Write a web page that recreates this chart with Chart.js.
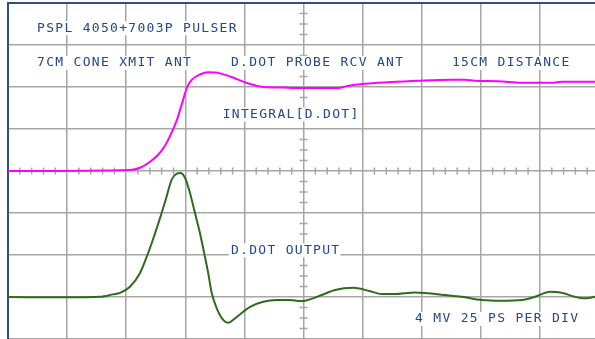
<!DOCTYPE html>
<html>
<head>
<meta charset="utf-8">
<script src="https://cdn.jsdelivr.net/npm/chart.js@4"></script>
<style>
  html, body { margin: 0; padding: 0; background: #fff; overflow: hidden; }
</style>
</head>
<body>
<canvas id="scope" width="595" height="339"></canvas>
<script>
// time in ps (25 ps per div), amplitude in mV (4 mV per div)
const integralTime = [0, 51.6, 55.8, 60.1, 63.5, 66.4, 69.4, 71.5, 73.6, 75.7, 77.8, 81.2, 84.6, 87.6, 89.7, 95.2, 100.7, 107.9, 116.3, 121.4, 139.6, 143.8, 151, 160.7, 173.4, 187.8, 193.3, 197.5, 207.3, 217.4, 230.1, 234.3, 248.3];
const integralValues = [0, 0.1, 0.31, 0.88, 1.55, 2.41, 3.75, 4.9, 6.42, 7.95, 8.71, 9.19, 9.41, 9.38, 9.3, 8.9, 8.4, 8.0, 7.95, 7.9, 7.9, 8.1, 8.3, 8.45, 8.6, 8.7, 8.7, 8.6, 8.55, 8.4, 8.4, 8.5, 8.5];

const ddotTime = [0, 24.8, 38.9, 44.4, 47.4, 51.6, 55.8, 58.7, 61.5, 64.3, 67.1, 69.2, 71.4, 72.8, 74.9, 77.0, 79.1, 81.2, 83.3, 84.7, 86.2, 88.3, 91.1, 93.2, 96.0, 99.5, 102.4, 108.0, 113.7, 119.3, 123.5, 125.6, 132.7, 138.3, 146.1, 152.4, 158.1, 163.7, 172.2, 177.8, 184.9, 191.9, 200.4, 208.8, 217.3, 222.9, 229.2, 234.2, 239.8, 244.0, 248.3];
const ddotValues = [-12.0, -12.03, -11.98, -11.75, -11.6, -11.02, -9.74, -8.16, -6.4, -4.49, -2.43, -0.84, -0.26, -0.2, -0.67, -2.11, -4.01, -5.92, -8.16, -9.74, -11.65, -13.08, -14.2, -14.46, -14.04, -13.41, -12.93, -12.45, -12.29, -12.29, -12.39, -12.36, -11.81, -11.33, -11.12, -11.4, -11.72, -11.72, -11.56, -11.65, -11.81, -11.98, -12.29, -12.36, -12.29, -11.98, -11.5, -11.59, -11.98, -12.13, -11.98];

// screen annotations: text, left edge (ps), centre (mV)
const noteText = ["PSPL 4050+7003P PULSER", "7CM CONE XMIT ANT", "D.DOT PROBE RCV ANT", "15CM DISTANCE", "INTEGRAL[D.DOT]", "D.DOT OUTPUT", "4 MV 25 PS PER DIV"];
const noteX = [12.3, 12.3, 94.3, 187.8, 90.8, 94.3, 172.2];
const noteY = [13.6, 10.3, 10.3, 10.3, 5.4, -7.55, -14.1];

const toPoints = (xs, ys) => xs.map((x, i) => ({ x: x, y: ys[i] }));

const GRID = "#a6a6a6";
const FRAME = "#2d4f86";
const INK = "#22498a";

// small graticule marks on the two centre lines
const graticule = {
  id: "graticule",
  beforeDatasetsDraw(chart) {
    const { ctx, scales: { x, y } } = chart;
    const cx = x.getPixelForValue(125);
    const cy = y.getPixelForValue(0);
    ctx.save();
    ctx.strokeStyle = GRID;
    ctx.lineWidth = 1.5;
    ctx.beginPath();
    for (let t = 0; t <= 250; t += 5) {
      if (t % 25 === 0) continue;
      const px = x.getPixelForValue(t);
      ctx.moveTo(px, cy - 3.5);
      ctx.lineTo(px, cy + 3.5);
    }
    for (let v = -16; v <= 16; v += 1) {
      if (v % 4 === 0) continue;
      const py = y.getPixelForValue(v);
      ctx.moveTo(cx - 4, py);
      ctx.lineTo(cx + 4, py);
    }
    ctx.stroke();
    ctx.restore();
  },
};

// text written on the screen, with a white box behind it
const notes = {
  id: "notes",
  afterDatasetsDraw(chart) {
    const { ctx, scales: { x, y } } = chart;
    ctx.save();
    ctx.font = "13px 'DejaVu Sans Mono'";
    ctx.letterSpacing = "1.3px";
    ctx.textBaseline = "middle";
    noteText.forEach((txt, i) => {
      const px = x.getPixelForValue(noteX[i]);
      const py = y.getPixelForValue(noteY[i]);
      const w = ctx.measureText(txt).width;
      ctx.fillStyle = "#fff";
      ctx.fillRect(px - 2, py - 7, w + 2, 14);
      ctx.fillStyle = INK;
      ctx.fillText(txt, px, py);
    });
    ctx.restore();
  },
};

// keep only whole divisions (drop the tick Chart.js adds at max)
const wholeDivs = (step) => (scale) => {
  scale.ticks = scale.ticks.filter((t) => Math.abs(t.value / step - Math.round(t.value / step)) < 1e-6);
};

new Chart(document.getElementById("scope"), {
  type: "line",
  data: {
    datasets: [
      {
        data: toPoints(integralTime, integralValues),
        borderColor: "#ff00ff",
        borderWidth: 2,
        pointRadius: 0,
        cubicInterpolationMode: "monotone",
      },
      {
        data: toPoints(ddotTime, ddotValues),
        borderColor: "#2f6b1f",
        borderWidth: 2,
        pointRadius: 0,
        cubicInterpolationMode: "monotone",
      },
    ],
  },
  options: {
    responsive: false,
    animation: false,
    layout: { padding: { left: 8, top: 3, right: 0, bottom: 0 } },
    plugins: { legend: { display: false }, tooltip: { enabled: false } },
    scales: {
      x: {
        type: "linear",
        position: "top",
        min: 0,
        max: 248.3,
        afterBuildTicks: wholeDivs(25),
        ticks: { display: false, stepSize: 25 },
        grid: { color: GRID, lineWidth: 1.5, drawTicks: false },
        border: { color: FRAME, width: 2 },
      },
      y: {
        min: -16,
        max: 16,
        ticks: { display: false, stepSize: 4 },
        grid: { color: GRID, lineWidth: 1.5, drawTicks: false },
        border: { color: FRAME, width: 2 },
      },
    },
  },
  plugins: [graticule, notes],
});
</script>
</body>
</html>
